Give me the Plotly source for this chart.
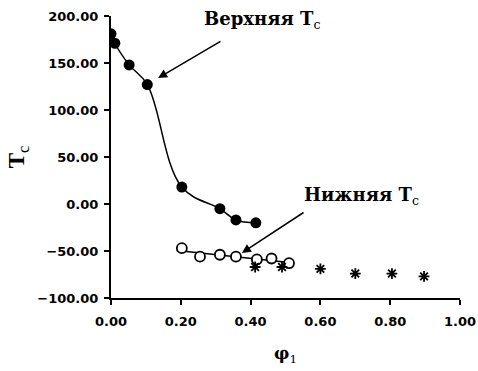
import numpy as np
import plotly.graph_objects as go

# Upper critical temperature (filled circles)
phi_upper = [0.00, 0.011, 0.052, 0.104, 0.203, 0.312, 0.358, 0.415]
tc_upper = [181, 171, 148, 127, 18, -5, -17, -20]

# Lower critical temperature (open circles)
phi_lower = [0.203, 0.255, 0.312, 0.358, 0.418, 0.46, 0.51]
tc_lower = [-47, -56, -54, -56, -59, -58, -63]

# Additional points (asterisks)
phi_star = [0.413, 0.49, 0.60, 0.70, 0.805, 0.897]
tc_star = [-67, -67, -69, -74, -74, -77]

x_ticks = [0.0, 0.2, 0.4, 0.6, 0.8, 1.0]
y_ticks = [-100, -50, 0, 50, 100, 150, 200]

fig = go.Figure()

# smooth curve through the upper branch
fig.add_trace(go.Scatter(
    x=phi_upper, y=tc_upper, mode="lines",
    line=dict(color="black", width=1.5, shape="spline", smoothing=1.1),
    hoverinfo="skip", showlegend=False))
fig.add_trace(go.Scatter(
    x=phi_upper, y=tc_upper, mode="markers",
    marker=dict(symbol="circle", size=11, color="black"),
    showlegend=False))

# linear trend through the lower branch
k, b = np.polyfit(phi_lower, tc_lower, 1)
fit_x = np.array([min(phi_lower), max(phi_lower)])
fig.add_trace(go.Scatter(
    x=fit_x, y=k * fit_x + b, mode="lines",
    line=dict(color="black", width=1.5),
    hoverinfo="skip", showlegend=False))
fig.add_trace(go.Scatter(
    x=phi_lower, y=tc_lower, mode="markers",
    marker=dict(symbol="circle", size=10, color="white",
                line=dict(color="black", width=1.8)),
    showlegend=False))

fig.add_trace(go.Scatter(
    x=phi_star, y=tc_star, mode="markers",
    marker=dict(symbol="asterisk-open", size=9, color="black",
                line=dict(color="black", width=1.8)),
    showlegend=False))

label_font = dict(family="DejaVu Serif, serif", size=18, color="black")

# arrows pointing at the two branches
fig.add_annotation(
    x=0.135, y=134, ax=0.318, ay=174, axref="x", ayref="y",
    xref="x", yref="y", text="", showarrow=True,
    arrowhead=2, arrowsize=1.2, arrowwidth=1.5, arrowcolor="black")
fig.add_annotation(
    x=0.26, y=196, xref="x", yref="y",
    text="<b>Верхняя T</b><sub>c</sub>", showarrow=False,
    xanchor="left", yanchor="middle", font=label_font)

fig.add_annotation(
    x=0.375, y=-52, ax=0.556, ay=-8, axref="x", ayref="y",
    xref="x", yref="y", text="", showarrow=True,
    arrowhead=2, arrowsize=1.2, arrowwidth=1.5, arrowcolor="black")
fig.add_annotation(
    x=0.547, y=9, xref="x", yref="y",
    text="<b>Нижняя T</b><sub>c</sub>", showarrow=False,
    xanchor="left", yanchor="middle", font=label_font)

tick_font = dict(family="DejaVu Sans, sans-serif", size=13, color="black",
                 weight="bold")

fig.update_xaxes(
    range=[0, 1.0], tickvals=x_ticks, tickformat=".2f", automargin=False,
    showline=True, linecolor="black", linewidth=2,
    ticks="outside", ticklen=5, tickwidth=1.5, tickcolor="black",
    ticklabelstandoff=5,
    showgrid=False, zeroline=False, tickfont=tick_font,
    title=dict(text="<b>φ</b><sub>1</sub>",
               font=dict(family="DejaVu Serif, serif", size=17, color="black"),
               standoff=20))
fig.update_yaxes(
    range=[-100, 200], tickvals=y_ticks, tickformat=".2f", automargin=False,
    showline=True, linecolor="black", linewidth=2,
    ticks="outside", ticklen=5, tickwidth=1.5, tickcolor="black",
    ticklabelstandoff=3,
    showgrid=False, zeroline=False, tickfont=tick_font,
    title=dict(text="<b>T</b><sub>c</sub>",
               font=dict(family="Liberation Serif, serif", size=23, color="black"),
               standoff=6))

fig.update_layout(
    width=478, height=371,
    margin=dict(l=111, r=18, t=16, b=73),
    plot_bgcolor="white", paper_bgcolor="white",
    showlegend=False)

fig.write_html("out.html")
